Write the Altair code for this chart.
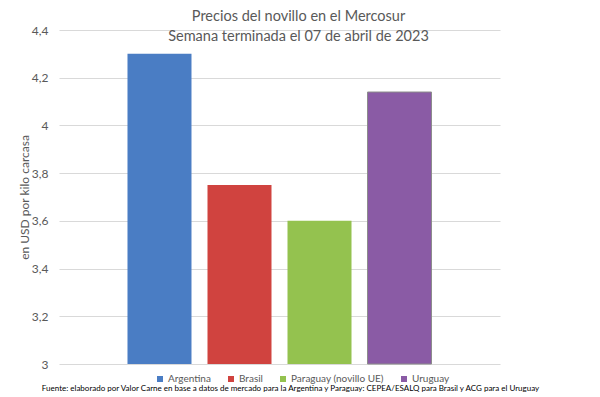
import altair as alt
import pandas as pd

paises = ["Argentina", "Brasil", "Paraguay (novillo UE)", "Uruguay"]
precios = [4.30, 3.75, 3.60, 4.14]
colores = ["#4A7DC4", "#D0433F", "#94C24F", "#8A5BA5"]
ticks_y = [3.0, 3.2, 3.4, 3.6, 3.8, 4.0, 4.2, 4.4]
titulo = ["Precios del novillo en el Mercosur", "Semana terminada el 07 de abril de 2023"]
fuente = ("Fuente: elaborado por Valor Carne en base a datos de mercado para la Argentina y "
          "Paraguay: CEPEA/ESALQ para Brasil y ACG para el Uruguay")

df = pd.DataFrame({"pais": paises, "precio": precios})

FONT = "Lato"
GRAY = "#595959"

bars = alt.Chart(df).mark_bar(strokeWidth=1).encode(
    x=alt.X("pais:N", sort=paises,
            scale=alt.Scale(paddingInner=0.2, paddingOuter=0.856),
            axis=alt.Axis(labels=False, ticks=False, domain=False, grid=False,
                          title=fuente, titleFont=FONT, titleFontSize=8,
                          titleFontWeight="normal", titleColor="#000000",
                          titlePadding=24, titleX=231, titleBaseline="middle")),
    y=alt.Y("precio:Q",
            scale=alt.Scale(domain=[3, 4.4], zero=False, nice=False),
            axis=alt.Axis(values=ticks_y, grid=True, gridColor="#d9d9d9",
                          domain=False, ticks=False, labelPadding=11,
                          labelFont=FONT, labelFontSize=12, labelColor=GRAY,
                          labelExpr="replace(format(datum.value, '.1~f'), '.', ',')",
                          title="en USD por kilo carcasa", titleFont=FONT,
                          titleFontSize=12, titleFontWeight="normal",
                          titleColor=GRAY, titlePadding=0)),
    y2=alt.datum(3),
    color=alt.Color("pais:N", sort=paises,
                    scale=alt.Scale(domain=paises, range=colores),
                    legend=alt.Legend(orient="none", direction="horizontal",
                                      legendX=96, legendY=344, title=None,
                                      symbolType="square", symbolSize=36,
                                      symbolStrokeWidth=0, labelOffset=3,
                                      columnPadding=15, padding=0,
                                      labelFont=FONT, labelFontSize=10,
                                      labelColor=GRAY)),
    stroke=alt.condition(alt.datum.pais == "Uruguay", alt.value("#8c8c8c"), alt.value(None)),
)

chart = bars.properties(
    width=441,
    height=334,
    background="white",
    padding={"left": 51, "top": 22, "right": 92, "bottom": 33},
    autosize=alt.AutoSizeParams(type="none"),
    title=alt.TitleParams(text=titulo, font=FONT, fontSize=14.5, fontWeight="normal",
                          color=GRAY, anchor="middle", dx=19, offset=-20,
                          lineHeight=20),
).configure_view(stroke=None)

chart.save("out.html", embed_options={"renderer": "svg", "actions": False})
